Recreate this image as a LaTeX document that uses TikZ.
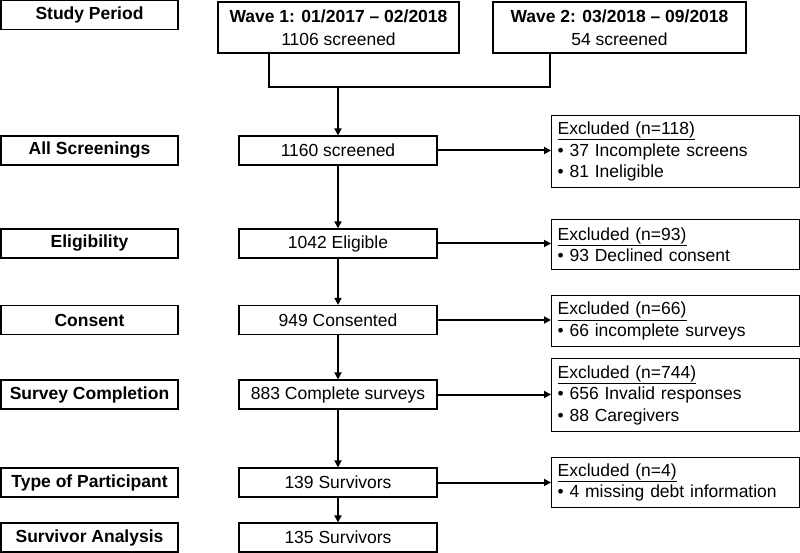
\documentclass[tikz,border=0pt]{standalone}
\usepackage{fontspec}
\setmainfont{Liberation Sans}
\usetikzlibrary{arrows.meta}
\tikzset{
    stage/.style={draw,line width=1.2pt,minimum width=177pt,minimum height=29pt,inner sep=0pt,font=\bfseries},
    count/.style={draw,line width=1.2pt,minimum width=198pt,minimum height=29pt,inner sep=0pt},
    wave/.style={draw,line width=1.2pt,minimum height=51pt,inner sep=0pt,align=center},
    excl/.style={draw,line width=1.2pt,anchor=north west,text width=236pt,inner xsep=6pt,inner ysep=0pt,align=left},
    flow/.style={line width=2pt,-{Triangle[length=7pt,width=7pt]}},
}
\begin{document}
\fontsize{17.5}{21.5}\selectfont
\begin{tikzpicture}[x=1pt,y=-1pt]
    \useasboundingbox (0,0) rectangle (800,553);
    \node[stage] (period) at (89.5,15) {Study Period};
    \node[stage] (allscr) at (89.5,150.5) {All Screenings};
    \node[stage] (elig) at (89.5,243.5) {Eligibility};
    \node[stage] (cons) at (89.5,320) {Consent};
    \node[stage] (survey) at (89.5,394.5) {Survey Completion};
    \node[stage] (type) at (89.5,482.5) {Type of Participant};
    \node[stage] (analysis) at (89.5,537.5) {Survivor Analysis};
    \node[wave,minimum width=241pt] (wave1) at (338.5,27.5) {\textbf{Wave 1: 01/2017 – 02/2018}\\[1.5pt]1106 screened};
    \node[wave,minimum width=253pt] (wave2) at (619.5,27.5) {\textbf{Wave 2: 03/2018 – 09/2018}\\[1.5pt]54 screened};
    \node[count] (screened) at (338,150.5) {1160 screened};
    \node[count] (eligible) at (338,243.5) {1042 Eligible};
    \node[count] (consented) at (338,320) {949 Consented};
    \node[count] (complete) at (338,394.5) {883 Complete surveys};
    \node[count] (survivors) at (338,482.5) {139 Survivors};
    \node[count] (final) at (338,537.5) {135 Survivors};
    \node[excl,minimum height=72pt] (ex1) at (551,115) {\underline{Excluded (n=118)}\\\textbullet{} 37 Incomplete screens\\\textbullet{} 81 Ineligible};
    \node[excl,minimum height=50pt] (ex2) at (551,219) {\underline{Excluded (n=93)}\\\textbullet{} 93 Declined consent};
    \node[excl,minimum height=51pt] (ex3) at (551,295) {\underline{Excluded (n=66)}\\\textbullet{} 66 incomplete surveys};
    \node[excl,minimum height=73pt] (ex4) at (551,358) {\underline{Excluded (n=744)}\\\textbullet{} 656 Invalid responses\\\textbullet{} 88 Caregivers};
    \node[excl,minimum height=50pt] (ex5) at (551,457) {\underline{Excluded (n=4)}\\\textbullet{} 4 missing debt information};
    \coordinate (w1) at (269,53);
    \coordinate (w2) at (550,53);
    \coordinate (join) at (338,87);
    \draw[line width=2pt] (w1) |- (join) -| (w2);
    \draw[flow] (join) -- (screened);
    \draw[flow] (screened) -- (eligible);
    \draw[flow] (eligible) -- (consented);
    \draw[flow] (consented) -- (complete);
    \draw[flow] (complete) -- (survivors);
    \draw[flow] (survivors) -- (final);
    \draw[flow] (screened) -- (ex1.west |- screened.east);
    \draw[flow] (eligible) -- (ex2.west |- eligible.east);
    \draw[flow] (consented) -- (ex3.west |- consented.east);
    \draw[flow] (complete) -- (ex4.west |- complete.east);
    \draw[flow] (survivors) -- (ex5.west |- survivors.east);
\end{tikzpicture}
\end{document}
